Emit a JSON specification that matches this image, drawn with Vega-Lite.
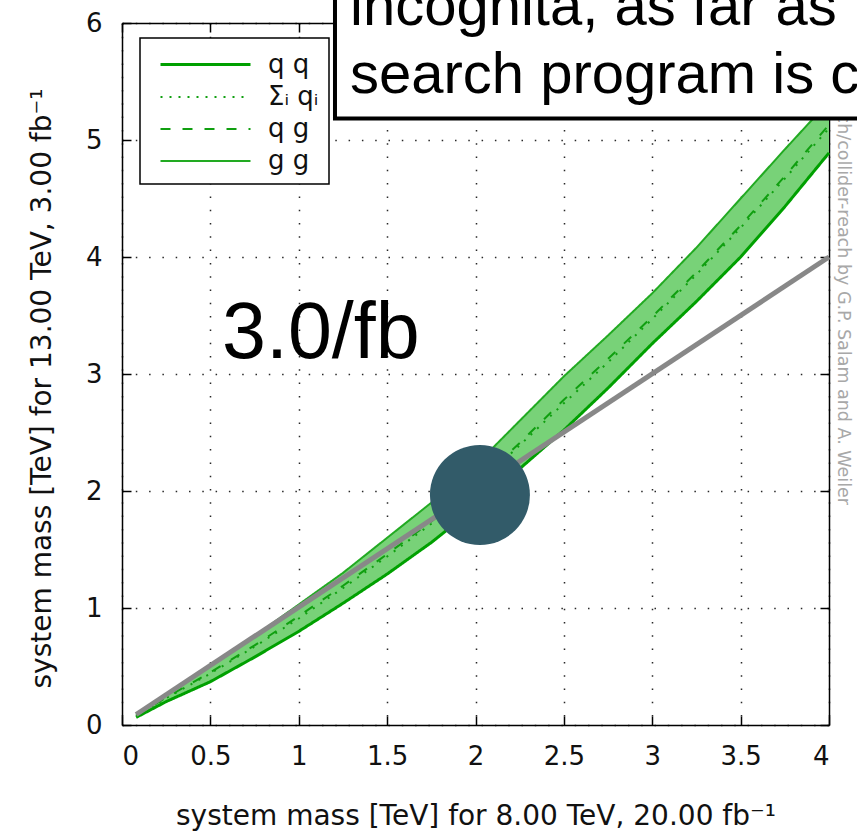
{
  "$schema": "https://vega.github.io/schema/vega-lite/v6.json",
  "width": 707,
  "height": 702,
  "autosize": {"type": "none"},
  "padding": {"left": 122, "top": 23, "right": 28, "bottom": 115},
  "background": "#ffffff",
  "datasets": {
    "band": [
      {"x": 0.08, "lo": 0.065, "hi": 0.085},
      {"x": 0.25, "lo": 0.2, "hi": 0.26},
      {"x": 0.5, "lo": 0.37, "hi": 0.51},
      {"x": 0.75, "lo": 0.58, "hi": 0.76},
      {"x": 1.0, "lo": 0.8, "hi": 1.03},
      {"x": 1.25, "lo": 1.04, "hi": 1.3},
      {"x": 1.5, "lo": 1.29, "hi": 1.6},
      {"x": 1.75, "lo": 1.56, "hi": 1.9},
      {"x": 2.0, "lo": 1.86, "hi": 2.22},
      {"x": 2.25, "lo": 2.19, "hi": 2.6},
      {"x": 2.5, "lo": 2.52, "hi": 2.98},
      {"x": 2.75, "lo": 2.88, "hi": 3.33},
      {"x": 3.0, "lo": 3.26, "hi": 3.69},
      {"x": 3.25, "lo": 3.62, "hi": 4.08},
      {"x": 3.5, "lo": 4.0, "hi": 4.5},
      {"x": 3.75, "lo": 4.43, "hi": 4.92},
      {"x": 4.0, "lo": 4.89, "hi": 5.33}
    ],
    "lines": [
      {"series": "q q", "x": 0.08, "y": 0.065}, {"series": "q q", "x": 0.25, "y": 0.2}, {"series": "q q", "x": 0.5, "y": 0.37}, {"series": "q q", "x": 0.75, "y": 0.58}, {"series": "q q", "x": 1.0, "y": 0.8}, {"series": "q q", "x": 1.25, "y": 1.04}, {"series": "q q", "x": 1.5, "y": 1.29}, {"series": "q q", "x": 1.75, "y": 1.56}, {"series": "q q", "x": 2.0, "y": 1.86}, {"series": "q q", "x": 2.25, "y": 2.19}, {"series": "q q", "x": 2.5, "y": 2.52}, {"series": "q q", "x": 2.75, "y": 2.88}, {"series": "q q", "x": 3.0, "y": 3.26}, {"series": "q q", "x": 3.25, "y": 3.62}, {"series": "q q", "x": 3.5, "y": 4.0}, {"series": "q q", "x": 3.75, "y": 4.43}, {"series": "q q", "x": 4.0, "y": 4.89},
      {"series": "Σᵢ qᵢ", "x": 0.08, "y": 0.075}, {"series": "Σᵢ qᵢ", "x": 0.25, "y": 0.23}, {"series": "Σᵢ qᵢ", "x": 0.5, "y": 0.44}, {"series": "Σᵢ qᵢ", "x": 0.75, "y": 0.67}, {"series": "Σᵢ qᵢ", "x": 1.0, "y": 0.91}, {"series": "Σᵢ qᵢ", "x": 1.25, "y": 1.17}, {"series": "Σᵢ qᵢ", "x": 1.5, "y": 1.44}, {"series": "Σᵢ qᵢ", "x": 1.75, "y": 1.72}, {"series": "Σᵢ qᵢ", "x": 2.0, "y": 2.04}, {"series": "Σᵢ qᵢ", "x": 2.25, "y": 2.39}, {"series": "Σᵢ qᵢ", "x": 2.5, "y": 2.75}, {"series": "Σᵢ qᵢ", "x": 2.75, "y": 3.1}, {"series": "Σᵢ qᵢ", "x": 3.0, "y": 3.47}, {"series": "Σᵢ qᵢ", "x": 3.25, "y": 3.85}, {"series": "Σᵢ qᵢ", "x": 3.5, "y": 4.25}, {"series": "Σᵢ qᵢ", "x": 3.75, "y": 4.67}, {"series": "Σᵢ qᵢ", "x": 4.0, "y": 5.1},
      {"series": "q g", "x": 0.08, "y": 0.078}, {"series": "q g", "x": 0.25, "y": 0.235}, {"series": "q g", "x": 0.5, "y": 0.45}, {"series": "q g", "x": 0.75, "y": 0.68}, {"series": "q g", "x": 1.0, "y": 0.93}, {"series": "q g", "x": 1.25, "y": 1.19}, {"series": "q g", "x": 1.5, "y": 1.46}, {"series": "q g", "x": 1.75, "y": 1.74}, {"series": "q g", "x": 2.0, "y": 2.06}, {"series": "q g", "x": 2.25, "y": 2.41}, {"series": "q g", "x": 2.5, "y": 2.78}, {"series": "q g", "x": 2.75, "y": 3.13}, {"series": "q g", "x": 3.0, "y": 3.49}, {"series": "q g", "x": 3.25, "y": 3.87}, {"series": "q g", "x": 3.5, "y": 4.27}, {"series": "q g", "x": 3.75, "y": 4.69}, {"series": "q g", "x": 4.0, "y": 5.13},
      {"series": "g g", "x": 0.08, "y": 0.085}, {"series": "g g", "x": 0.25, "y": 0.26}, {"series": "g g", "x": 0.5, "y": 0.51}, {"series": "g g", "x": 0.75, "y": 0.76}, {"series": "g g", "x": 1.0, "y": 1.03}, {"series": "g g", "x": 1.25, "y": 1.3}, {"series": "g g", "x": 1.5, "y": 1.6}, {"series": "g g", "x": 1.75, "y": 1.9}, {"series": "g g", "x": 2.0, "y": 2.22}, {"series": "g g", "x": 2.25, "y": 2.6}, {"series": "g g", "x": 2.5, "y": 2.98}, {"series": "g g", "x": 2.75, "y": 3.33}, {"series": "g g", "x": 3.0, "y": 3.69}, {"series": "g g", "x": 3.25, "y": 4.08}, {"series": "g g", "x": 3.5, "y": 4.5}, {"series": "g g", "x": 3.75, "y": 4.92}, {"series": "g g", "x": 4.0, "y": 5.33}
    ],
    "diag": [{"x": 0.08, "y": 0.09}, {"x": 4.0, "y": 4.0}],
    "marker": [{"x": 2.025, "y": 1.966}],
    "lumi": [{"x": 0.566, "y": 3.137, "label": "3.0/fb"}],
    "credit": [{"x": 4.079, "y": 1.88, "label": "http://cern.ch/collider-reach by G.P. Salam and A. Weiler"}],
    "box": [{"x": 1.205, "x2": 4.6, "y": 5.184, "y2": 6.6}],
    "boxtext": [
      {"x": 1.29, "y": 5.983, "label": "incognita, as far as"},
      {"x": 1.29, "y": 5.402, "label": "search program is c"}
    ]
  },
  "layer": [
    {
      "data": {"name": "band"},
      "mark": {"type": "area", "color": "#78d278", "opacity": 1},
      "encoding": {
        "x": {"field": "x", "type": "quantitative", "scale": {"domain": [0, 4], "nice": false, "zero": false},
          "axis": {"values": [0, 0.5, 1, 1.5, 2, 2.5, 3, 3.5, 4], "format": "~g", "grid": true,
            "title": "system mass [TeV] for 8.00 TeV, 20.00 fb⁻¹", "titleY": 99, "titleBaseline": "alphabetic",
            "labelPadding": 27}},
        "y": {"field": "lo", "type": "quantitative", "scale": {"domain": [0, 6], "nice": false, "zero": false},
          "axis": {"values": [0, 1, 2, 3, 4, 5, 6], "format": "~g", "grid": true,
            "title": "system mass [TeV] for 13.00 TeV, 3.00 fb⁻¹", "titleX": -72, "titleY": 365, "titleBaseline": "alphabetic", "titleAngle": -90,
            "labelPadding": 29}},
        "y2": {"field": "hi"}
      }
    },
    {
      "data": {"name": "lines"},
      "mark": {"type": "line", "strokeCap": "butt"},
      "encoding": {
        "x": {"field": "x", "type": "quantitative", "axis": null},
        "y": {"field": "y", "type": "quantitative", "axis": null},
        "detail": {"field": "series"},
        "color": {"field": "series", "type": "nominal",
          "scale": {"domain": ["q q", "Σᵢ qᵢ", "q g", "g g"], "range": ["#00a000", "#109f10", "#109f10", "#22aa22"]},
          "legend": {"title": null, "orient": "none", "legendX": 18, "legendY": 15, "symbolType": "M-0.4,0H5.6"}},
        "strokeDash": {"field": "series", "type": "nominal",
          "scale": {"domain": ["q q", "Σᵢ qᵢ", "q g", "g g"], "range": [[1, 0], [2, 7], [10, 12], [1, 0]]},
          "legend": {"title": null, "orient": "none", "legendX": 18, "legendY": 15, "symbolType": "M-0.4,0H5.6"}},
        "strokeWidth": {"field": "series", "type": "nominal",
          "scale": {"type": "ordinal", "domain": ["q q", "Σᵢ qᵢ", "q g", "g g"], "range": [3, 2, 2, 2]},
          "legend": {"title": null, "orient": "none", "legendX": 18, "legendY": 15, "symbolType": "M-0.4,0H5.6"}}
      }
    },
    {
      "data": {"name": "diag"},
      "mark": {"type": "line", "color": "#888888", "strokeWidth": 5, "strokeCap": "butt"},
      "encoding": {
        "x": {"field": "x", "type": "quantitative",
          "axis": {"orient": "top", "values": [0, 0.5, 1, 1.5, 2, 2.5, 3, 3.5, 4], "labels": false, "title": null, "grid": false}},
        "y": {"field": "y", "type": "quantitative",
          "axis": {"orient": "right", "values": [0, 1, 2, 3, 4, 5, 6], "labels": false, "title": null, "grid": false}}
      }
    },
    {
      "data": {"name": "marker"},
      "mark": {"type": "point", "shape": "circle", "filled": true, "color": "#325b69", "opacity": 1, "size": 10000},
      "encoding": {
        "x": {"field": "x", "type": "quantitative", "axis": null},
        "y": {"field": "y", "type": "quantitative", "axis": null}
      }
    },
    {
      "data": {"name": "lumi"},
      "mark": {"type": "text", "font": "Liberation Sans", "fontSize": 79, "color": "#000", "align": "left", "baseline": "alphabetic"},
      "encoding": {
        "x": {"field": "x", "type": "quantitative", "axis": null},
        "y": {"field": "y", "type": "quantitative", "axis": null},
        "text": {"field": "label"}
      }
    },
    {
      "data": {"name": "credit"},
      "mark": {"type": "text", "font": "DejaVu Sans", "fontSize": 17.5, "color": "#a8a8a8", "align": "right", "baseline": "middle", "angle": 90},
      "encoding": {
        "x": {"field": "x", "type": "quantitative", "axis": null},
        "y": {"field": "y", "type": "quantitative", "axis": null},
        "text": {"field": "label"}
      }
    },
    {
      "data": {"name": "box"},
      "mark": {"type": "rect", "fill": "#ffffff", "stroke": "#000000", "strokeWidth": 4},
      "encoding": {
        "x": {"field": "x", "type": "quantitative", "axis": null},
        "x2": {"field": "x2"},
        "y": {"field": "y", "type": "quantitative", "axis": null},
        "y2": {"field": "y2"}
      }
    },
    {
      "data": {"name": "boxtext"},
      "mark": {"type": "text", "font": "Liberation Sans", "fontSize": 58, "color": "#000", "align": "left", "baseline": "alphabetic"},
      "encoding": {
        "x": {"field": "x", "type": "quantitative", "axis": null},
        "y": {"field": "y", "type": "quantitative", "axis": null},
        "text": {"field": "label"}
      }
    }
  ],
  "resolve": {"axis": {"x": "independent", "y": "independent"}},
  "config": {
    "view": {"stroke": null},
    "axis": {
      "domainColor": "#000", "domainWidth": 1.5,
      "tickColor": "#000", "tickWidth": 1.5, "tickSize": -9,
      "gridColor": "#111", "gridWidth": 1.5, "gridDash": [1.5, 11.8], "gridOpacity": 0.9,
      "labelFont": "DejaVu Sans", "labelFontSize": 26, "labelColor": "#111",
      "titleFont": "DejaVu Sans", "titleFontSize": 28, "titleFontWeight": "normal", "titleColor": "#111"
    },
    "legend": {
      "padding": 10, "fillColor": "#ffffff", "strokeColor": "#000", "strokeWidth": 1.5, "cornerRadius": 0,
      "symbolSize": 900, "labelFont": "DejaVu Sans", "labelFontSize": 26, "labelColor": "#111",
      "labelOffset": 85, "rowPadding": 3, "labelLimit": 300
    }
  }
}
